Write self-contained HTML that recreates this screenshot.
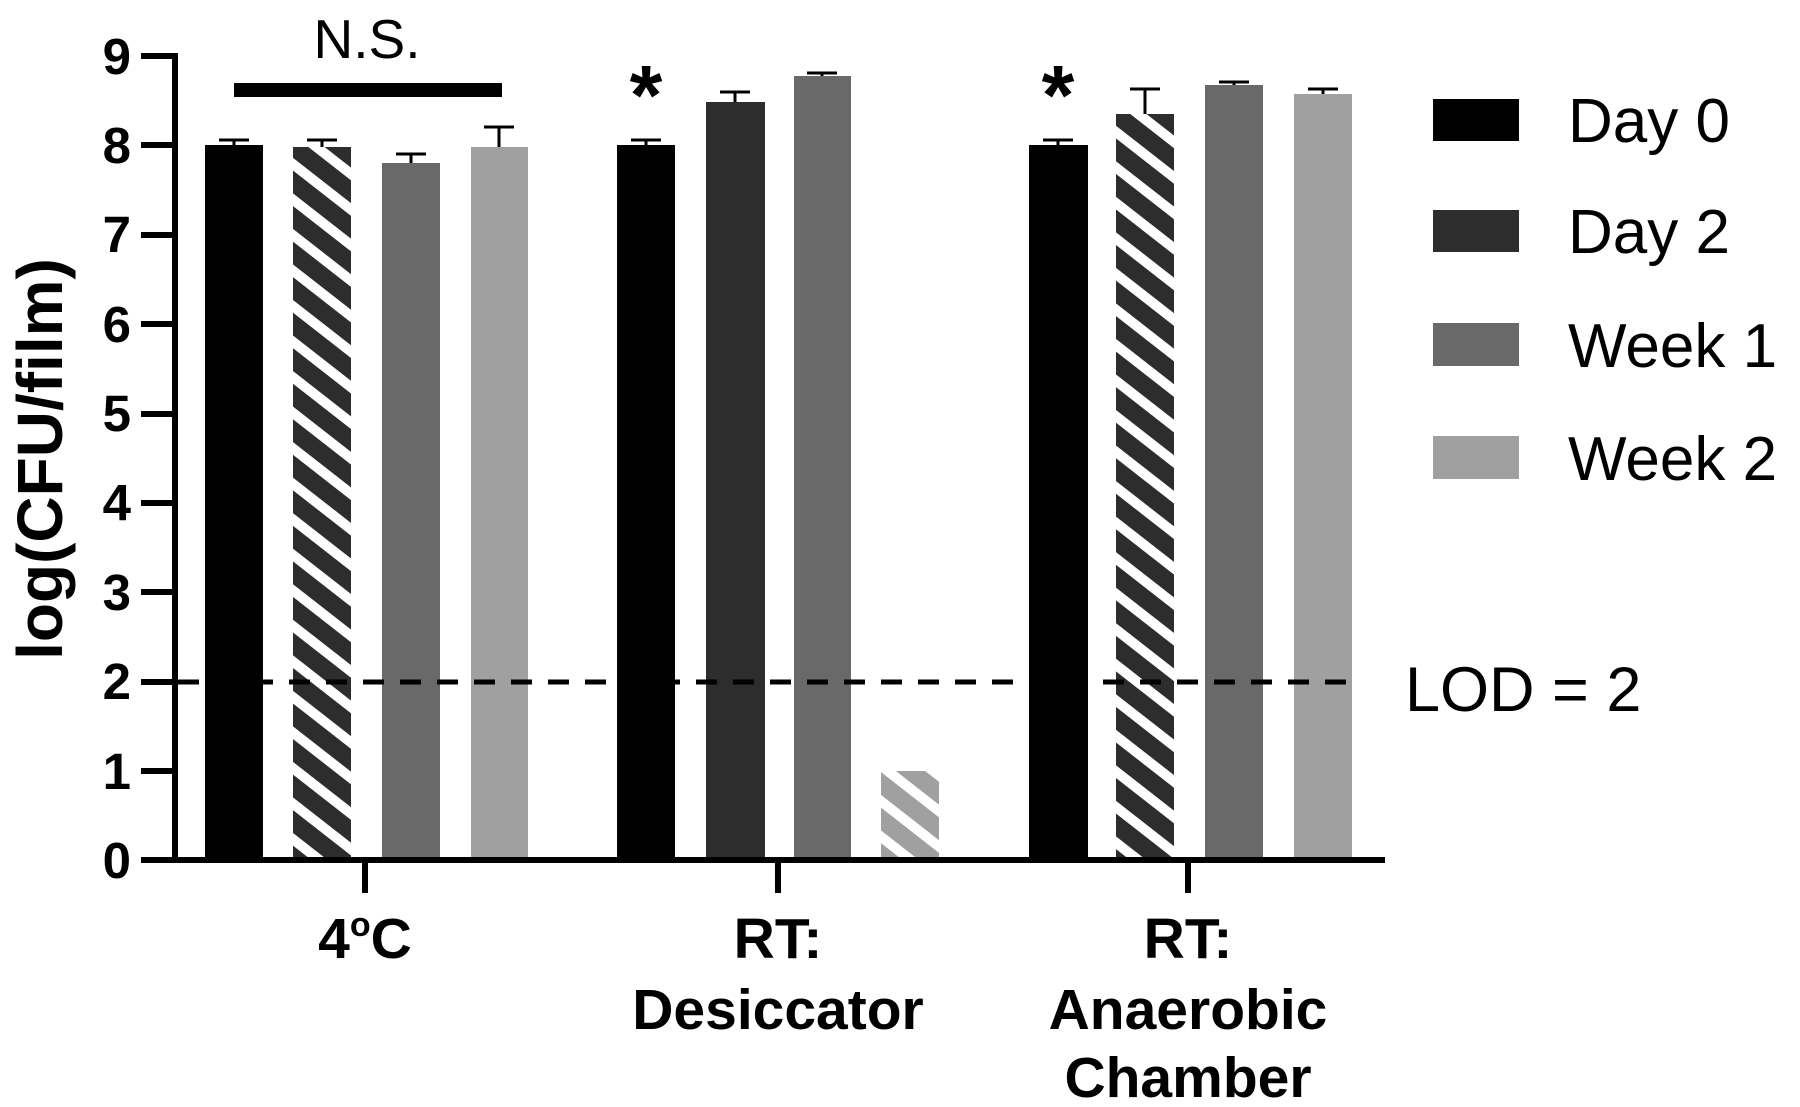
<!DOCTYPE html>
<html><head><meta charset="utf-8"><style>
html,body{margin:0;padding:0;background:#fff;}
svg{display:block;}
text{font-family:"Liberation Sans",Arial,sans-serif;}
</style></head><body>
<svg width="1800" height="1107" viewBox="0 0 1800 1107" xmlns="http://www.w3.org/2000/svg">
<defs>
<pattern id="hd" patternUnits="userSpaceOnUse" width="100" height="28" patternTransform="rotate(38)">
<rect width="100" height="28" fill="#2d2d2d"/><rect y="0" width="100" height="10" fill="#fff"/>
</pattern>
<pattern id="hl" patternUnits="userSpaceOnUse" width="100" height="28" patternTransform="rotate(38)">
<rect width="100" height="28" fill="#a0a0a0"/><rect y="0" width="100" height="10" fill="#fff"/>
</pattern>
</defs>
<g fill="#000" font-weight="bold" font-size="51" text-anchor="end">
<text x="131" y="878">0</text><text x="131" y="789">1</text><text x="131" y="699">2</text><text x="131" y="610">3</text><text x="131" y="520">4</text><text x="131" y="431">5</text><text x="131" y="342">6</text><text x="131" y="252">7</text><text x="131" y="163">8</text><text x="131" y="74">9</text>
</g>
<text transform="translate(62,459) rotate(-90)" text-anchor="middle" font-size="64" font-weight="bold">log(CFU/film)</text>
<g>
<rect x="205" y="145" width="58" height="715" fill="#000"/>
<rect x="293" y="147" width="58" height="713" fill="url(#hd)"/>
<rect x="382" y="163" width="58" height="697" fill="#696969"/>
<rect x="471" y="147" width="57" height="713" fill="#a0a0a0"/>
<rect x="617" y="145" width="58" height="715" fill="#000"/>
<rect x="706" y="102" width="59" height="758" fill="#2d2d2d"/>
<rect x="794" y="76" width="57" height="784" fill="#696969"/>
<rect x="881" y="771" width="58" height="89" fill="url(#hl)"/>
<rect x="1029" y="145" width="59" height="715" fill="#000"/>
<rect x="1116" y="114" width="58" height="746" fill="url(#hd)"/>
<rect x="1205" y="85" width="58" height="775" fill="#696969"/>
<rect x="1294" y="94" width="58" height="766" fill="#a0a0a0"/>
</g>
<g stroke="#000" stroke-width="3" fill="none">
<path d="M234 145V140M219 140H249"/>
<path d="M322 147V140M307 140H337"/>
<path d="M411 163V154M396 154H426"/>
<path d="M499 147V127M484 127H514"/>
<path d="M646 145V140M631 140H661"/>
<path d="M735 102V92M720 92H750"/>
<path d="M822 76V73M807 73H837"/>
<path d="M1058 145V140M1043 140H1073"/>
<path d="M1145 114V89M1130 89H1160"/>
<path d="M1234 85V82M1219 82H1249"/>
<path d="M1323 94V89M1308 89H1338"/>
</g>
<line x1="141" y1="682" x2="1362" y2="682" stroke="#000" stroke-width="5" stroke-dasharray="21 16"/>
<text x="1405" y="711" font-size="63">LOD = 2</text>
<g stroke="#000" stroke-width="6" fill="none">
<path d="M175 53V863"/>
<path d="M141 860H1385"/>
<path d="M141 56H175M141 145H175M141 235H175M141 324H175M141 414H175M141 503H175M141 592H175M141 682H175M141 771H175"/>
<path d="M365 860V893M778 860V893M1188 860V893"/>
</g>
<g font-weight="bold" font-size="57" text-anchor="middle">
<text x="365" y="958">4<tspan font-size="34" dy="-22">o</tspan><tspan dy="22">C</tspan></text>
<text x="778" y="958">RT:</text><text x="778" y="1029">Desiccator</text>
<text x="1188" y="958">RT:</text><text x="1188" y="1029">Anaerobic</text><text x="1188" y="1097">Chamber</text>
</g>
<text x="367" y="58" font-size="55" text-anchor="middle">N.S.</text>
<rect x="234" y="83" width="268" height="14" fill="#000"/>
<text x="646" y="124" font-size="84" font-weight="bold" text-anchor="middle">*</text>
<text x="1058" y="124" font-size="84" font-weight="bold" text-anchor="middle">*</text>
<rect x="1433" y="99" width="86" height="42" fill="#000"/>
<rect x="1433" y="210" width="86" height="42" fill="#2d2d2d"/>
<rect x="1433" y="323" width="86" height="43" fill="#696969"/>
<rect x="1433" y="436" width="86" height="43" fill="#a0a0a0"/>
<g font-size="62">
<text x="1568" y="142">Day 0</text>
<text x="1568" y="253">Day 2</text>
<text x="1568" y="367">Week 1</text>
<text x="1568" y="480">Week 2</text>
</g>
</svg>
</body></html>
